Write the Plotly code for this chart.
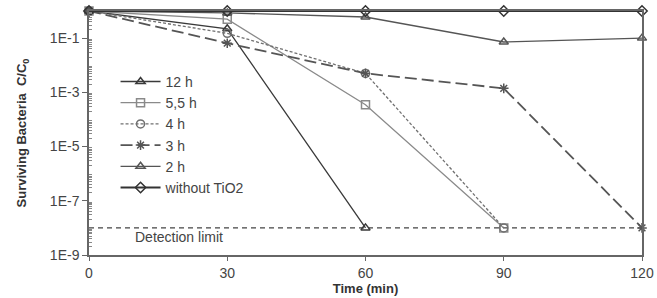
import plotly.graph_objects as go

time_min = [0, 30, 60, 90, 120]

c_12h = [1, 0.22, 1e-8]
c_55h = [1, 0.5, 3.5e-4, 1e-8]
c_4h = [1, 0.15, 5e-3, 1e-8]
c_3h = [1, 0.065, 5e-3, 1.4e-3, 1e-8]
c_2h = [1, 0.85, 0.6, 0.072, 0.1]
c_none = [1, 1, 1, 1, 1]
detection_limit = 1e-8

series = [
    ("12 h", c_12h, "#3a3a3a", "solid", "triangle-up-open", 1.3),
    ("5,5 h", c_55h, "#8a8a8a", "solid", "square-open", 1.3),
    ("4 h", c_4h, "#707070", "3px,2px", "circle-open", 1.3),
    ("3 h", c_3h, "#555555", "12px,5px", "asterisk-open", 1.8),
    ("2 h", c_2h, "#555555", "solid", "triangle-up-open", 1.3),
    ("without TiO2", c_none, "#333333", "solid", "diamond-open", 1.8),
]

ytick_vals = [1e-9, 1e-7, 1e-5, 1e-3, 1e-1]
ytick_text = ["1E-9", "1E-7", "1E-5", "1E-3", "1E-1"]
xtick_vals = [0, 30, 60, 90, 120]

fig = go.Figure()

fig.add_trace(go.Scatter(
    x=[time_min[0], time_min[-1]], y=[detection_limit, detection_limit],
    mode="lines", line=dict(color="#444444", width=1.2, dash="5px,4px"),
    showlegend=False, hoverinfo="skip"))

for name, vals, color, dash, sym, lw in series:
    fig.add_trace(go.Scatter(
        x=time_min[:len(vals)], y=vals, name=name, mode="lines+markers",
        line=dict(color=color, width=lw, dash=dash),
        marker=dict(symbol=sym, size=8, color=color, line=dict(color=color, width=1.5)),
        cliponaxis=False))

fig.add_annotation(x=9.5, y=-8.33, xref="x", yref="y", text="Detection limit",
                   showarrow=False, xanchor="left", yanchor="middle",
                   font=dict(size=14, color="#444444"))

minor_vals = [m * 10 ** k for k in range(-9, 0) for m in range(2, 10)]

fig.update_layout(
    width=657, height=298,
    margin=dict(l=89, r=15, t=11, b=43),
    paper_bgcolor="white", plot_bgcolor="white",
    font=dict(family="Liberation Sans, Arial, sans-serif", size=14, color="#444444"),
    legend=dict(x=0.048, y=0.775, xanchor="left", yanchor="top",
                bgcolor="rgba(0,0,0,0)", font=dict(size=14, color="#444444"),
                tracegroupgap=0, itemwidth=40),
    xaxis=dict(range=[0, 120], tickvals=xtick_vals, showgrid=False, zeroline=False,
               showline=True, linecolor="#666666", linewidth=1.5, mirror=True,
               ticks="outside", ticklen=4, tickcolor="#666666", automargin=False,
               tickfont=dict(size=14),
               title=dict(text="<b>Time (min)</b>", font=dict(size=13, color="#333333"), standoff=4)),
    yaxis=dict(type="log", range=[-9, 0], tickvals=ytick_vals, ticktext=ytick_text,
               showgrid=False, zeroline=False, showline=True, linecolor="#666666",
               linewidth=1.5, mirror=True, ticks="outside", ticklen=5, tickcolor="#666666",
               automargin=False, tickfont=dict(size=14),
               minor=dict(tickvals=minor_vals, ticks="inside", ticklen=3,
                          tickcolor="#888888", showgrid=False),
               title=dict(text="<b>Surviving Bacteria  C/C<sub>0</sub></b>",
                          font=dict(size=13, color="#333333"), standoff=20)),
)

fig.write_html("out.html", config={"displayModeBar": False},
               post_script="document.body.style.margin='0px';")
